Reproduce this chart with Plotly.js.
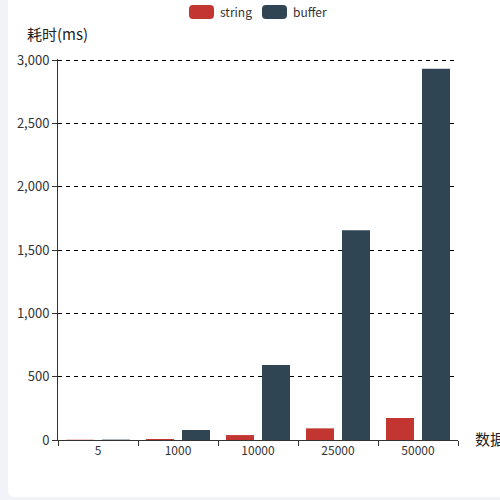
<!DOCTYPE html>
<html>
<head>
<meta charset="utf-8">
<script src="https://cdn.plot.ly/plotly-3.0.1.min.js"></script>
<style>
  html, body { margin: 0; padding: 0; background: #f2f3f8; overflow: hidden; }
  #card { position: absolute; left: 8px; top: -4px; width: 520px; height: 501px; background: #fff; border-radius: 6px; }
  #chart { position: absolute; left: 0; top: 0; width: 500px; height: 500px; }
</style>
</head>
<body>
<div id="card"></div>
<div id="chart"></div>
<script>
// tamaños de datos y tiempos (ms)
var categorias = ['5', '1000', '10000', '25000', '50000'];
var tiempoString = [2, 8, 39, 92, 174];
var tiempoBuffer = [3, 79, 592, 1658, 2932];
var series = ['string', 'buffer'];
var colores = ['#c23531', '#2f4554'];

var fuente = '"Noto Sans CJK SC", "Noto Sans", sans-serif';

var trazas = [
    {
        type: 'bar',
        name: series[0],
        x: categorias,
        y: tiempoString,
        marker: { color: colores[0] },
        hoverinfo: 'none'
    },
    {
        type: 'bar',
        name: series[1],
        x: categorias,
        y: tiempoBuffer,
        marker: { color: colores[1] },
        hoverinfo: 'none'
    }
];

// leyenda al estilo echarts: rectángulos redondeados (en píxeles -> paper)
var L = 58, W = 400, T = 59, H = 381;
function px(x) { return (x - L) / W; }
function py(y) { return (T + H - y) / H; }
function rectRedondo(x0, y0, x1, y1, r) {
    var rx = r / W, ry = r / H;
    var a = px(x0), b = px(x1), c = py(y1), d = py(y0);
    return 'M' + (a + rx) + ',' + d + ' L' + (b - rx) + ',' + d +
        ' Q' + b + ',' + d + ' ' + b + ',' + (d - ry) +
        ' L' + b + ',' + (c + ry) + ' Q' + b + ',' + c + ' ' + (b - rx) + ',' + c +
        ' L' + (a + rx) + ',' + c + ' Q' + a + ',' + c + ' ' + a + ',' + (c + ry) +
        ' L' + a + ',' + (d - ry) + ' Q' + a + ',' + d + ' ' + (a + rx) + ',' + d + ' Z';
}
var leyendaX = [189, 262];
var formas = [];
var notas = [];
series.forEach(function (s, i) {
    formas.push({
        type: 'path', xref: 'paper', yref: 'paper',
        path: rectRedondo(leyendaX[i], 5, leyendaX[i] + 25, 19, 4),
        fillcolor: colores[i], line: { width: 0 }
    });
    notas.push({
        text: s, xref: 'paper', yref: 'paper',
        x: px(leyendaX[i] + 29), y: py(11.5),
        xanchor: 'left', yanchor: 'middle', showarrow: false,
        font: { family: fuente, size: 12, color: '#333' }
    });
});

notas.push({
    text: '耗时(ms)',
    xref: 'paper', yref: 'paper',
    x: -0.0825, y: 1.066,
    xanchor: 'left', yanchor: 'middle',
    showarrow: false,
    font: { family: fuente, size: 15, color: '#222' }
});
notas.push({
    text: '数据量',
    xref: 'paper', yref: 'paper',
    x: 1.0375, y: 0.005,
    xanchor: 'left', yanchor: 'middle',
    showarrow: false,
    font: { family: fuente, size: 15, color: '#222' }
});

var layout = {
    width: 500,
    height: 500,
    margin: { l: L, r: 500 - L - W, t: T, b: 500 - T - H, autoexpand: false },
    paper_bgcolor: 'rgba(0,0,0,0)',
    plot_bgcolor: 'rgba(0,0,0,0)',
    font: { family: fuente, size: 12, color: '#333' },
    barmode: 'group',
    bargap: 0.1,
    bargroupgap: 0.222,
    showlegend: false,
    xaxis: {
        type: 'category',
        showline: true,
        linecolor: '#333',
        linewidth: 1,
        ticks: 'outside',
        tickson: 'boundaries',
        ticklen: 5,
        tickcolor: '#333',
        showgrid: false,
        tickfont: { size: 12, color: '#333' }
    },
    yaxis: {
        range: [0, 3010],
        tickvals: [0, 500, 1000, 1500, 2000, 2500, 3000],
        tickformat: ',d',
        showline: true,
        linecolor: '#333',
        ticks: 'outside',
        ticklen: 5,
        tickcolor: '#333',
        showgrid: true,
        gridcolor: '#000',
        griddash: '4px,4px',
        gridwidth: 1,
        zeroline: false,
        tickfont: { size: 13, color: '#333' }
    },
    shapes: formas,
    annotations: notas
};

Plotly.newPlot('chart', trazas, layout, { displayModeBar: false, staticPlot: true });
</script>
</body>
</html>
